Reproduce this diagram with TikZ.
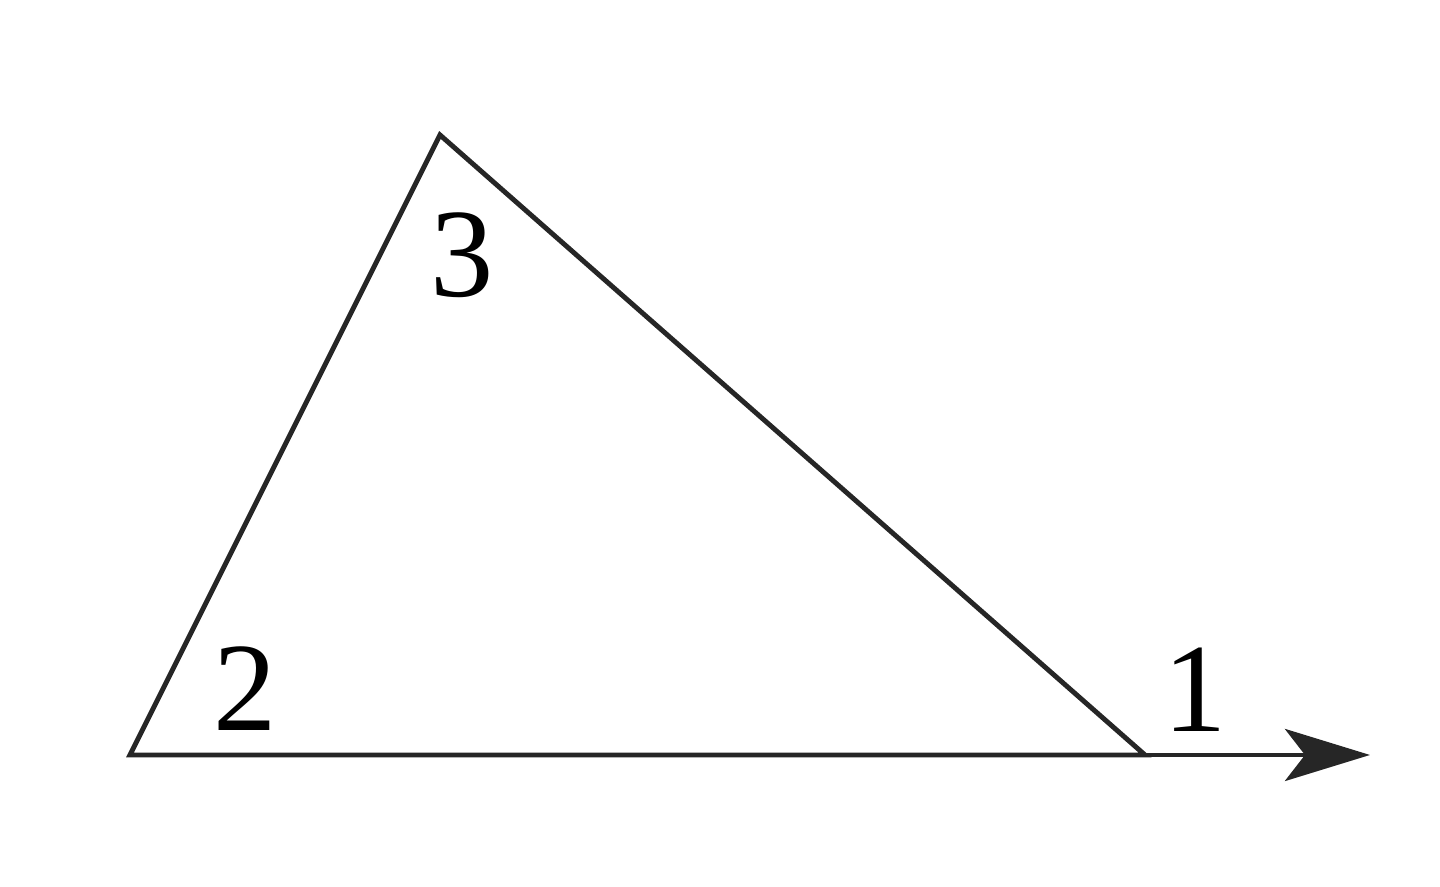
\documentclass[tikz,border=0pt]{standalone}
\usepackage{fontspec}
\setmainfont{Liberation Serif}
\usepackage{tikz}
\tikzset{>=latex}
\usetikzlibrary{arrows.meta}
\def\lw{1.4pt}

\begin{document}
\begin{tikzpicture}[x=1cm, y=1cm]
    \useasboundingbox (0, 0) rectangle (14.4, 8.87);

    \coordinate (A) at (1.30, 1.32);
    \coordinate (B) at (4.40, 7.52);
    \coordinate (C) at (11.45, 1.32);
    \coordinate (E) at (13.70, 1.32);

    \draw[line width = \lw, line join=miter, black!85] (A) -- (B) -- (C) -- cycle;
    \draw[line width = \lw, black!85, -{Stealth[length=8.5mm, width=5.2mm, inset=2mm]}] (C) -- (E);

    \node[font=\fontsize{36}{40}\selectfont] (two) at (2.45, 1.98) {2};
    \node[font=\fontsize{36}{40}\selectfont] (three) at (4.62, 6.32) {3};
    \node[font=\fontsize{36}{40}\selectfont] (one) at (11.95, 1.97) {1};

\end{tikzpicture}
\end{document}
